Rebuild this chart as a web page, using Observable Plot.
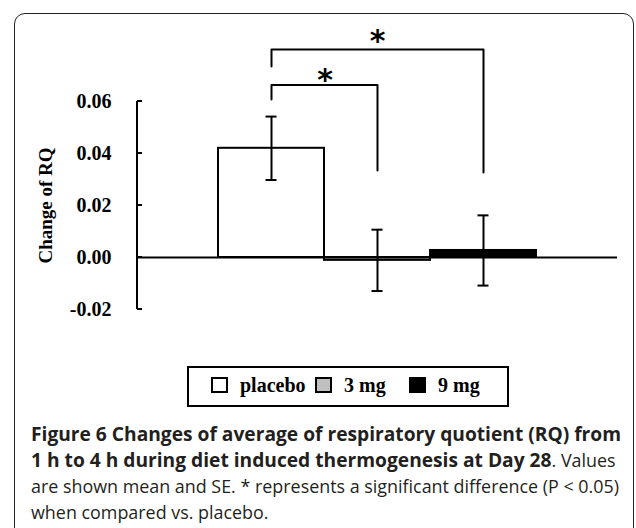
<!DOCTYPE html>
<html>
<head>
<meta charset="utf-8">
<script src="https://cdn.jsdelivr.net/npm/d3@7"></script>
<script src="https://cdn.jsdelivr.net/npm/@observablehq/plot@0.6"></script>
<style>
  html, body { margin: 0; padding: 0; background: #fff; }
  #wrap { position: relative; width: 636px; height: 528px; overflow: hidden; }
  #frame { position: absolute; left: 13.5px; top: 12.5px; width: 620px; height: 600px;
           border: 1.6px solid #222; border-radius: 11px; box-sizing: border-box; }
  #chart { position: absolute; left: 0; top: 0; }
  #legend { position: absolute; left: 187px; top: 366px; width: 322px; height: 41px;
            border: 2px solid #000; box-sizing: border-box;
            font-family: "Liberation Serif", serif; font-weight: bold; font-size: 20px; color: #000; }
  .sw { position: absolute; top: 9px; width: 17px; height: 16px; border: 2px solid #000; box-sizing: border-box; }
  .lt { position: absolute; top: 6px; line-height: 22px; white-space: nowrap; }
  #caption { position: absolute; left: 31px; top: 420.5px; font-family: "Open Sans", sans-serif;
             font-size: 17.9px; line-height: 26px; color: #231f20; white-space: nowrap; }
  #caption b { font-weight: 700; font-size: 19.2px; }
</style>
</head>
<body>
<div id="wrap">
  <div id="frame"></div>
  <div id="chart"></div>
  <div id="legend"></div>
  <div id="caption"></div>
</div>
<script>
// ---- data ----
const groups = ["placebo", "3 mg", "9 mg"];
const means = [0.042, -0.0011, 0.0027];
const ses = [0.0122, 0.0118, 0.0135];
const fills = ["#ffffff", "#c0c0c0", "#000000"];
const yTicks = [-0.02, 0.00, 0.02, 0.04, 0.06];
const yLabel = "Change of RQ";
// significance brackets: vs placebo
const bracketTargets = ["3 mg", "9 mg"];
const bracketLeftLow = [0.0608, 0.0735];
const bracketTop = [0.0663, 0.0800];
const bracketRightLow = [0.0335, 0.0327];
const starY = [0.0683, 0.0833];
const starMark = "*";

const rows = groups.map((g, i) => ({group: g, mean: means[i], se: ses[i], fill: fills[i]}));
const bracketPts = [];
bracketTargets.forEach((t, i) => {
  bracketPts.push({b: i, x: groups[0], y: bracketLeftLow[i]});
  bracketPts.push({b: i, x: groups[0], y: bracketTop[i]});
  bracketPts.push({b: i, x: t, y: bracketTop[i]});
  bracketPts.push({b: i, x: t, y: bracketRightLow[i]});
});

function yAxisLine(index, scales, values, dimensions) {
  const x0 = dimensions.marginLeft;
  const g = d3.create("svg:g").attr("stroke", "#000").attr("stroke-width", 2).attr("fill", "none");
  g.append("line").attr("x1", x0).attr("x2", x0)
    .attr("y1", scales.y(yTicks[0])).attr("y2", scales.y(yTicks[yTicks.length - 1]));
  for (const t of yTicks) {
    g.append("line").attr("x1", x0).attr("x2", x0 + 5).attr("y1", scales.y(t)).attr("y2", scales.y(t));
  }
  return g.node();
}

const chart = Plot.plot({
  width: 636,
  height: 340,
  marginLeft: 137,
  marginRight: 19,
  marginTop: 23,
  marginBottom: 18,
  style: {fontFamily: "'Liberation Serif', serif", fontWeight: "bold", fontSize: "20px", color: "#000", background: "transparent"},
  x: {type: "band", domain: groups, paddingInner: 0, paddingOuter: 0.743, axis: null},
  y: {domain: [-0.025, 0.09], axis: null},
  marks: [
    Plot.barY(rows, {x: "group", y1: 0, y2: "mean", fill: "fill", stroke: "#000", strokeWidth: 2}),
    Plot.ruleY([0], {stroke: "#000", strokeWidth: 2}),
    yAxisLine,
    Plot.axisY({ticks: yTicks, tickFormat: d => d.toFixed(2), tickSize: 0, tickPadding: 26, fontSize: 20, fontWeight: "bold", label: null}),
    Plot.text([yLabel], {frameAnchor: "left", y: () => 0.02, dx: -92, rotate: -90, textAnchor: "middle", fontSize: 19, fontWeight: "bold", text: d => d}),
    Plot.ruleX(rows, {x: "group", y1: d => d.mean - d.se, y2: d => d.mean + d.se, stroke: "#000", strokeWidth: 2}),
    Plot.tickY(rows, {x: "group", y: d => d.mean + d.se, insetLeft: 47.5, insetRight: 47.5, stroke: "#000", strokeWidth: 2}),
    Plot.tickY(rows, {x: "group", y: d => d.mean - d.se, insetLeft: 47.5, insetRight: 47.5, stroke: "#000", strokeWidth: 2}),
    Plot.line(bracketPts, {x: "x", y: "y", z: "b", stroke: "#000", strokeWidth: 2, curve: "linear"}),
    Plot.text([0], {x: () => groups[0], y: () => starY[0], text: () => starMark, dx: 53.5, fontSize: 30, fontFamily: "DejaVu Sans, sans-serif", fontWeight: "bold"}),
    Plot.text([0], {x: () => groups[1], y: () => starY[1], text: () => starMark, fontSize: 30, fontFamily: "DejaVu Sans, sans-serif", fontWeight: "bold"})
  ]
});
document.getElementById("chart").appendChild(chart);

// legend
const swatchLeft = [22, 126, 220];
const labelLeft = [51, 155, 249];
const legend = document.getElementById("legend");
groups.forEach((g, i) => {
  const sw = document.createElement("span");
  sw.className = "sw";
  sw.style.left = swatchLeft[i] + "px";
  sw.style.background = fills[i];
  legend.appendChild(sw);
  const t = document.createElement("span");
  t.className = "lt";
  t.style.left = labelLeft[i] + "px";
  t.textContent = g;
  legend.appendChild(t);
});

// caption
const capBold1 = "Figure 6 Changes of average of respiratory quotient (RQ) from";
const capBold2 = "1 h to 4 h during diet induced thermogenesis at Day 28";
const capRest2 = ". Values";
const capLine3 = "are shown mean and SE. * represents a significant difference (P < 0.05)";
const capLine4 = "when compared vs. placebo.";
const cap = document.getElementById("caption");
const esc = s => s.replace(/&/g, "&amp;").replace(/</g, "&lt;");
cap.innerHTML = `<b>${esc(capBold1)}</b><br><b>${esc(capBold2)}</b>${esc(capRest2)}<br>${esc(capLine3)}<br>${esc(capLine4)}`;
</script>
</body>
</html>
